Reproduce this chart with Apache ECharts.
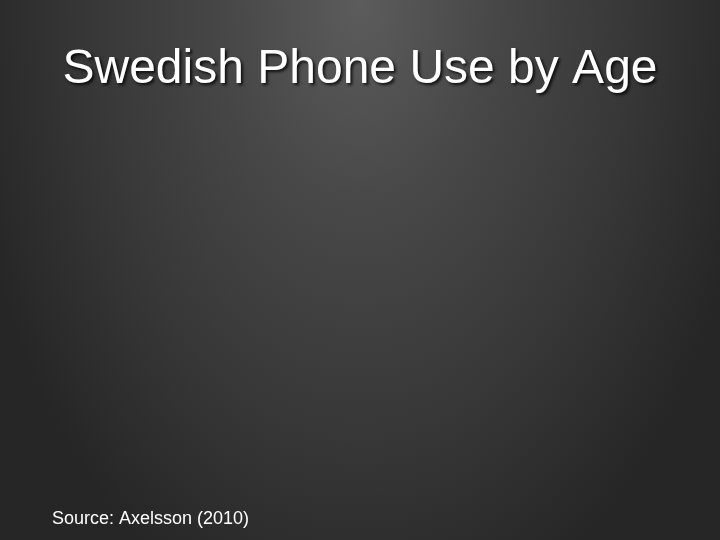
<!DOCTYPE html>
<html>
<head>
<meta charset="utf-8">
<script src="https://cdn.jsdelivr.net/npm/echarts@6/dist/echarts.min.js"></script>
<style>
html,body{margin:0;padding:0;width:720px;height:540px;overflow:hidden;}
body{background:radial-gradient(ellipse 56% 120% at 50% 0%, #5c5c5c 0%, #484848 32%, #373737 68%, #262626 100%);}
#chart{width:720px;height:540px;}
</style>
</head>
<body>
<div id="chart"></div>
<script>
var titleText = 'Swedish Phone Use by Age';
var sourceText = 'Source: Axelsson (2010)';
var categories = [];
var values = [];

var chart = echarts.init(document.getElementById('chart'), null, {renderer: 'canvas'});
chart.setOption({
  backgroundColor: 'transparent',
  animation: false,
  title: [
    {
      text: titleText,
      left: 'center',
      top: 46,
      padding: 0,
      textStyle: {
        fontFamily: 'Liberation Sans, Arial, sans-serif',
        fontSize: 48,
        fontWeight: 'normal',
        color: '#ffffff',
        textShadowColor: 'rgba(0,0,0,0.8)',
        textShadowBlur: 3,
        textShadowOffsetX: 2,
        textShadowOffsetY: 2
      }
    },
    {
      text: sourceText,
      left: 52,
      top: 510,
      padding: 0,
      textStyle: {
        fontFamily: 'Liberation Sans, Arial, sans-serif',
        fontSize: 18,
        fontWeight: 'normal',
        color: '#ffffff'
      }
    }
  ],
  series: []
});
</script>
</body>
</html>
